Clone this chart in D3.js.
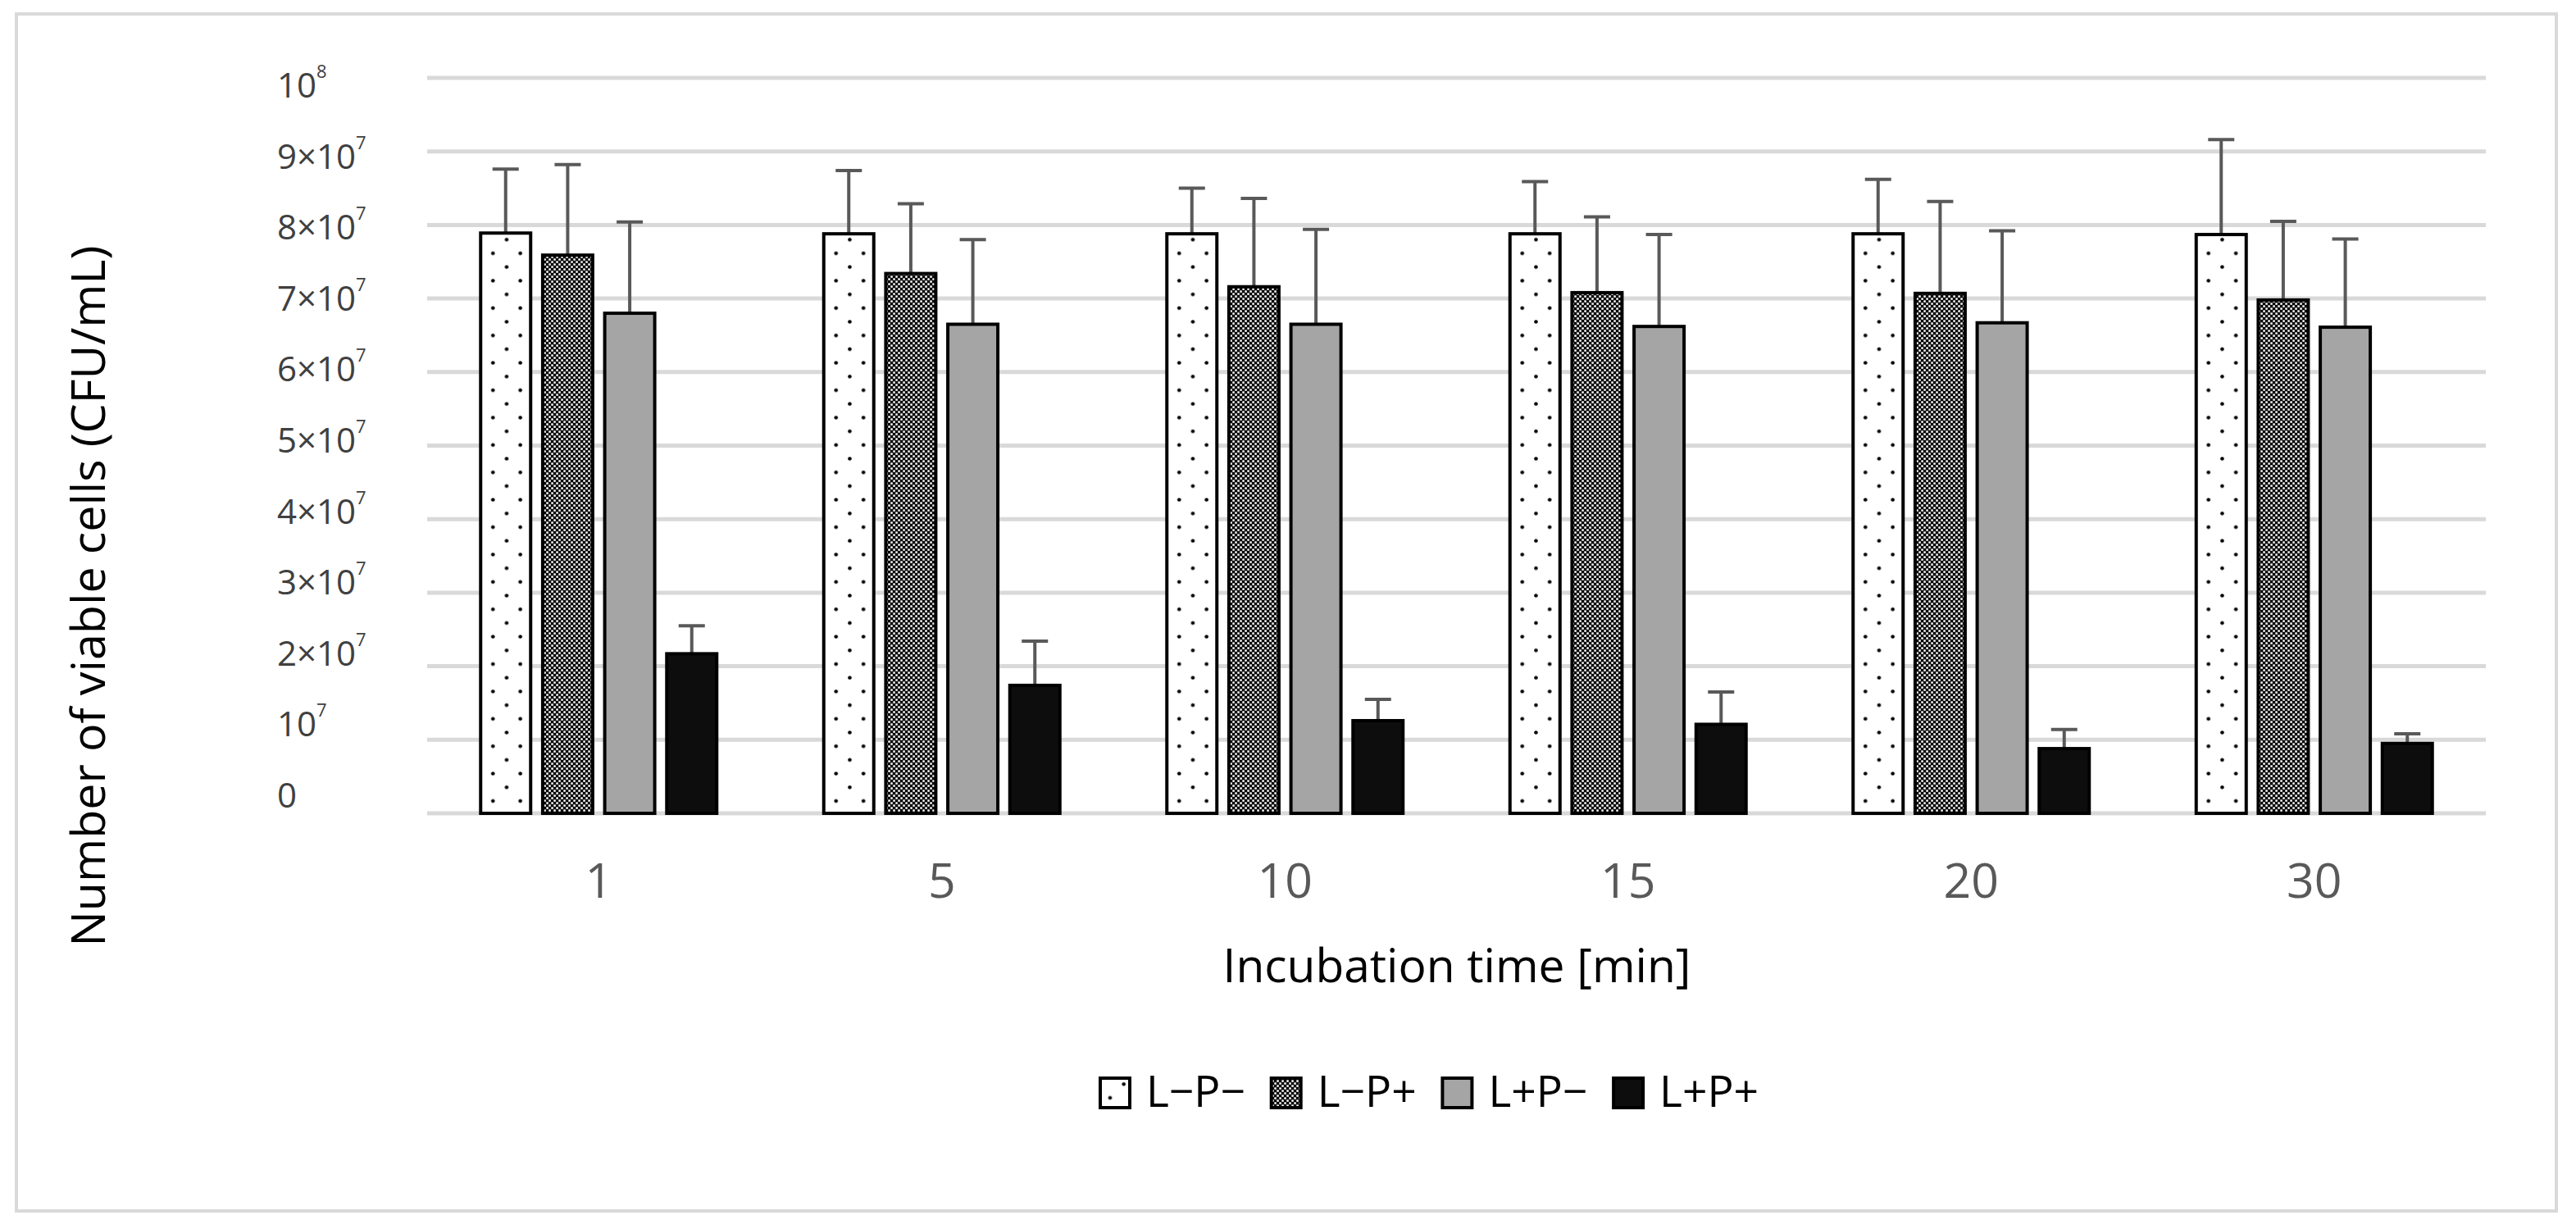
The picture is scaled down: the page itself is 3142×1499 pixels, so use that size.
<!DOCTYPE html>
<html>
<head>
<meta charset="utf-8">
<script src="https://cdn.jsdelivr.net/npm/d3@7/dist/d3.min.js"></script>
<style>
html,body{margin:0;padding:0;background:#fff;overflow:hidden}
text{font-family:"Open Sans",sans-serif}
</style>
</head>
<body>
<svg id="chart" width="3142" height="1499"></svg>
<script>
// ---------- data ----------
const categories = ["1", "5", "10", "15", "20", "30"];
const seriesNames = ["L\u2212P\u2212", "L\u2212P+", "L+P\u2212", "L+P+"];
// mean CFU/mL
const meanLmPm = [7.89e7, 7.88e7, 7.88e7, 7.88e7, 7.88e7, 7.87e7];
const meanLmPp = [7.59e7, 7.34e7, 7.16e7, 7.08e7, 7.07e7, 6.98e7];
const meanLpPm = [6.80e7, 6.65e7, 6.65e7, 6.62e7, 6.67e7, 6.61e7];
const meanLpPp = [2.17e7, 1.74e7, 1.26e7, 1.21e7, 0.88e7, 0.95e7];
// upper error (SD)
const errLmPm = [0.87e7, 0.86e7, 0.62e7, 0.71e7, 0.74e7, 1.29e7];
const errLmPp = [1.23e7, 0.95e7, 1.20e7, 1.03e7, 1.25e7, 1.07e7];
const errLpPm = [1.24e7, 1.15e7, 1.29e7, 1.25e7, 1.25e7, 1.20e7];
const errLpPp = [0.38e7, 0.60e7, 0.29e7, 0.44e7, 0.26e7, 0.13e7];
const yTickValues = [0, 1e7, 2e7, 3e7, 4e7, 5e7, 6e7, 7e7, 8e7, 9e7, 1e8];
const yTickLabels = ["0", "10^7", "2\u00d710^7", "3\u00d710^7", "4\u00d710^7", "5\u00d710^7",
                     "6\u00d710^7", "7\u00d710^7", "8\u00d710^7", "9\u00d710^7", "10^8"];
const xTitle = "Incubation time [min]";
const yTitle = "Number of viable cells (CFU/mL)";

const seriesMeans = [meanLmPm, meanLmPp, meanLpPm, meanLpPp];
const seriesErrs = [errLmPm, errLmPp, errLpPm, errLpPp];
const seriesFills = ["dots", "checker", "#a5a5a5", "#0d0d0d"];

// ---------- layout ----------
const svg = d3.select("#chart");
svg.append("rect").attr("width", 3142).attr("height", 1499).attr("fill", "#fff");
svg.append("rect").attr("x", 20).attr("y", 17).attr("width", 3098).attr("height", 1460)
  .attr("fill", "none").attr("stroke", "#d9d9d9").attr("stroke-width", 4);

const x0 = d3.scaleBand().domain(categories).range([521, 3032]).padding(0);
const groupW = 292;
const x1 = d3.scaleBand().domain(seriesNames).range([0, groupW]).paddingInner(0.141).paddingOuter(0);
const y = d3.scaleLinear().domain([0, 1e8]).range([992, 95]);
const yLab = d3.scaleLinear().domain([0, 1e8]).range([970, 104]);

const defs = svg.append("defs");
function dotsPattern(id, ox, oy) {
  const p = defs.append("pattern").attr("id", id).attr("patternUnits", "userSpaceOnUse")
    .attr("x", ox).attr("y", oy).attr("width", 33.4).attr("height", 33.4);
  p.append("rect").attr("width", 33.4).attr("height", 33.4).attr("fill", "#fff");
  p.append("circle").attr("cx", 8.35).attr("cy", 8.35).attr("r", 2.3).attr("fill", "#000");
  p.append("circle").attr("cx", 25.05).attr("cy", 25.05).attr("r", 2.3).attr("fill", "#000");
}
const ck = defs.append("pattern").attr("id", "checker").attr("patternUnits", "userSpaceOnUse")
  .attr("width", 6).attr("height", 6);
ck.append("rect").attr("width", 6).attr("height", 6).attr("fill", "#000");
ck.append("rect").attr("x", 0.3).attr("y", 0.3).attr("width", 2.5).attr("height", 2.5).attr("fill", "#fff");
ck.append("rect").attr("x", 3.3).attr("y", 3.3).attr("width", 2.5).attr("height", 2.5).attr("fill", "#fff");

// gridlines
svg.append("g").selectAll("line").data(yTickValues).join("line")
  .attr("x1", x0.range()[0]).attr("x2", x0.range()[1])
  .attr("y1", d => y(d)).attr("y2", d => y(d))
  .attr("stroke", "#d9d9d9").attr("stroke-width", 5);

// y tick labels
const yl = svg.append("g").selectAll("text").data(yTickValues).join("text")
  .attr("x", 338).attr("y", d => yLab(d) + 15)
  .attr("fill", "#404040").attr("font-size", 42);
yl.each(function(d, i) {
  const parts = yTickLabels[i].split("^");
  const t = d3.select(this);
  t.append("tspan").text(parts[0]);
  if (parts[1]) t.append("tspan").attr("font-size", 22).attr("dy", -24).text(parts[1]);
});

// bars
const bars = [];
categories.forEach((c, ci) => {
  seriesNames.forEach((s, si) => {
    bars.push({c, ci, s, si, v: seriesMeans[si][ci], e: seriesErrs[si][ci]});
  });
});
const gx = d => x0(d.c) + x0.bandwidth() / 2 - groupW / 2 + x1(d.s);
const sw = 4;
bars.forEach(d => {
  if (seriesFills[d.si] === "dots") dotsPattern("dots-" + d.ci, gx(d) + 17 - 8.35, 0);
});
const fillOf = d => {
  const f = seriesFills[d.si];
  if (f === "dots") return "url(#dots-" + d.ci + ")";
  if (f === "checker") return "url(#checker)";
  return f;
};
// error bars (behind bar tops)
const eg = svg.append("g");
eg.selectAll("line.v").data(bars).join("line").attr("class", "v")
  .attr("x1", d => gx(d) + x1.bandwidth() / 2).attr("x2", d => gx(d) + x1.bandwidth() / 2)
  .attr("y1", d => y(d.v)).attr("y2", d => y(d.v + d.e))
  .attr("stroke", "#595959").attr("stroke-width", 4);
eg.selectAll("line.c").data(bars).join("line").attr("class", "c")
  .attr("x1", d => gx(d) + x1.bandwidth() / 2 - 16).attr("x2", d => gx(d) + x1.bandwidth() / 2 + 16)
  .attr("y1", d => y(d.v + d.e)).attr("y2", d => y(d.v + d.e))
  .attr("stroke", "#595959").attr("stroke-width", 4);

svg.append("g").selectAll("rect").data(bars).join("rect")
  .attr("x", d => gx(d) + sw / 2).attr("width", x1.bandwidth() - sw)
  .attr("y", d => y(d.v)).attr("height", d => y(0) - y(d.v))
  .attr("fill", fillOf).attr("stroke", "#000").attr("stroke-width", sw);

// x tick labels
svg.append("g").selectAll("text").data(categories).join("text")
  .attr("x", d => x0(d) + x0.bandwidth() / 2).attr("y", 1095)
  .attr("text-anchor", "middle").attr("fill", "#595959").attr("font-size", 59)
  .text(d => d);

function fitText(sel, target) {
  const n = sel.node();
  const fs = +sel.attr("font-size");
  const w = n.getComputedTextLength();
  if (w > 0) sel.attr("font-size", fs * target / w);
}

// axis titles
const xt = svg.append("text").attr("x", 1777).attr("y", 1198).attr("text-anchor", "middle")
  .attr("fill", "#000").attr("font-size", 60).text(xTitle);
fitText(xt, 571);
const yt = svg.append("text").attr("transform", "translate(128,727) rotate(-90)")
  .attr("text-anchor", "middle").attr("fill", "#000").attr("font-size", 60).text(yTitle);
fitText(yt, 855);

// legend
const legStart = 1340, legStep = 208.7;
const lg = svg.append("g");
seriesNames.forEach((s, i) => {
  const lx = legStart + i * legStep;
  if (seriesFills[i] === "dots") dotsPattern("dots-leg", lx + 14 - 8.35, 1313 + 26 - 8.35);
  lg.append("rect").attr("x", lx + 2).attr("y", 1315).attr("width", 36).attr("height", 36)
    .attr("fill", seriesFills[i] === "dots" ? "url(#dots-leg)" : seriesFills[i] === "checker" ? "url(#checker)" : seriesFills[i])
    .attr("stroke", "#000").attr("stroke-width", 4);
  const t = lg.append("text").attr("x", lx + 58).attr("y", 1350).attr("fill", "#000")
    .attr("font-size", 56).text(s);
  fitText(t, 121);
});
</script>
</body>
</html>
